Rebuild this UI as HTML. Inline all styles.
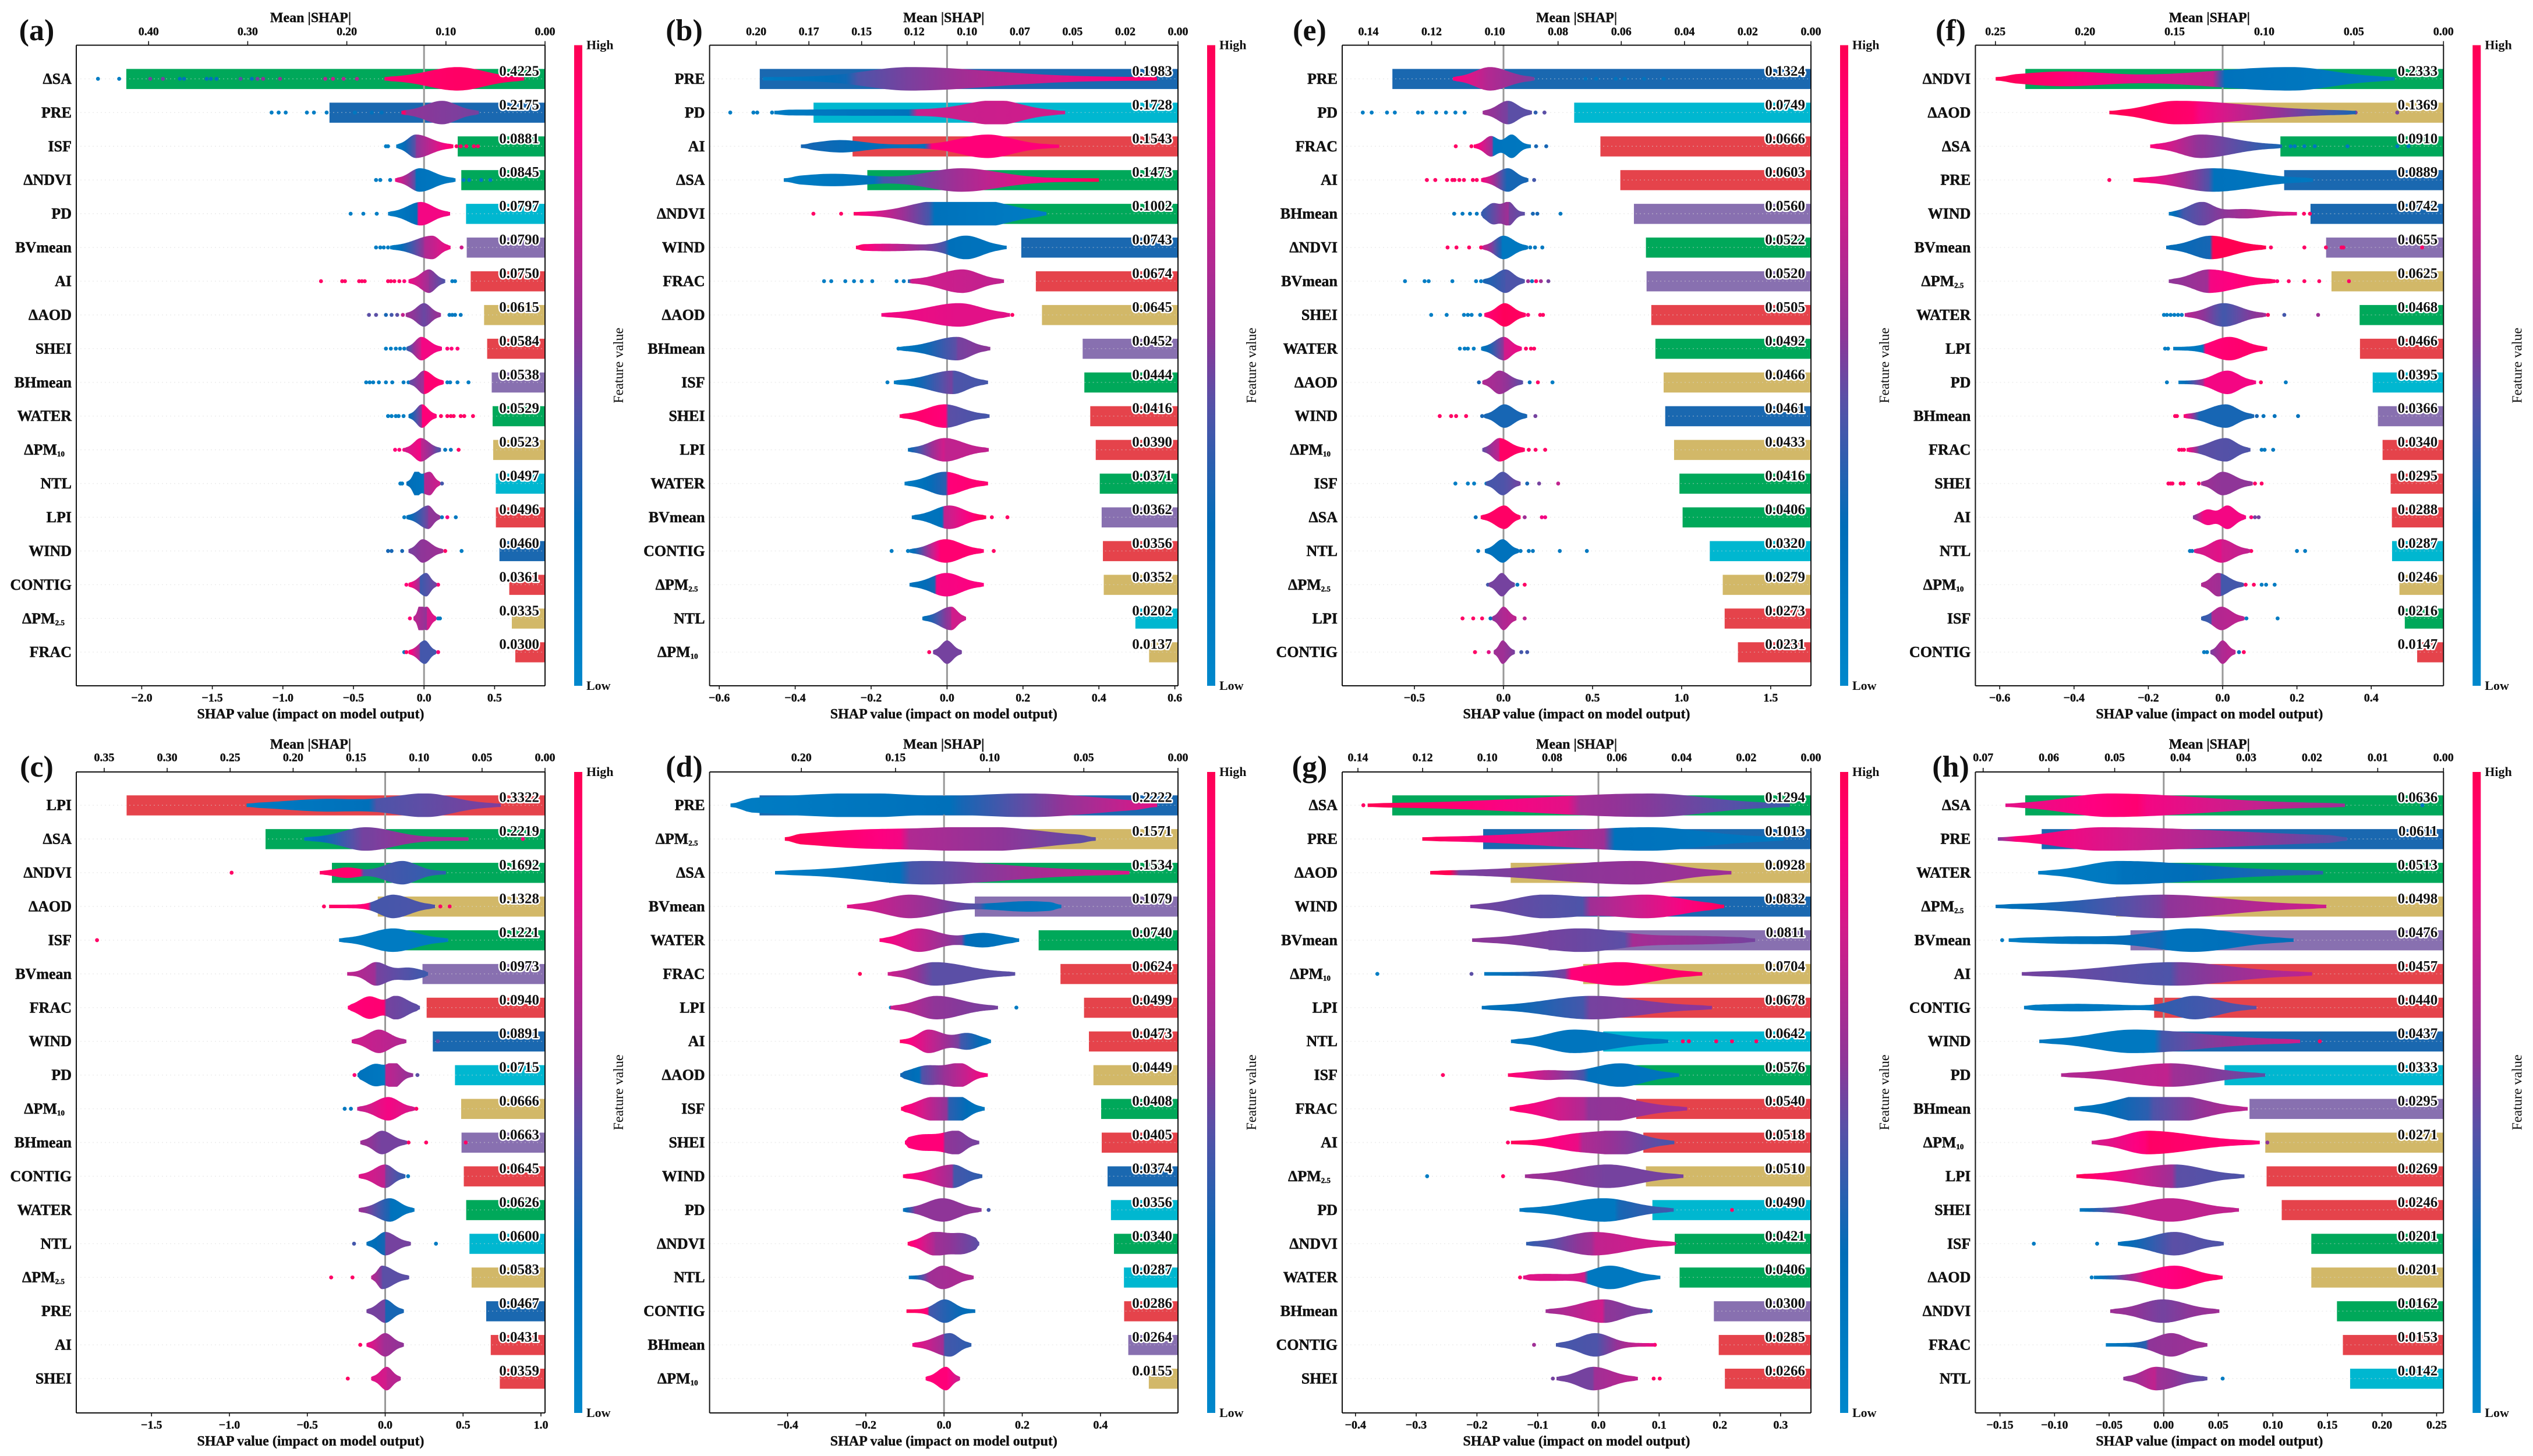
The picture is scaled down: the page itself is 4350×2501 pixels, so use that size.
<!DOCTYPE html>
<html lang="en">
<head>
<meta charset="utf-8">
<title>SHAP summary panels</title>
<style>
html,body{margin:0;padding:0;background:#fff;}
svg{display:block;}
text{font-family:"Liberation Serif",serif;fill:#111;}
</style>
</head>
<body>
<svg id="figure" xmlns="http://www.w3.org/2000/svg" width="4350" height="2501" viewBox="0 0 4350 2501">
<rect x="0" y="0" width="4350" height="2501" fill="#fff"/>
<defs id="defs"></defs>
</svg>
<script>
// ---------- panel (a) ----------
const aFeatures=["ΔSA","PRE","ISF","ΔNDVI","PD","BVmean","AI","ΔAOD","SHEI","BHmean","WATER","ΔPM10","NTL","LPI","WIND","CONTIG","ΔPM2.5","FRAC"];
const aMeans=[.4225,.2175,.0881,.0845,.0797,.0790,.0750,.0615,.0584,.0538,.0529,.0523,.0497,.0496,.0460,.0361,.0335,.0300];
const aShapTicks=[-2,-1.5,-1,-.5,0,.5];
const aMeanTicks=[.4,.3,.2,.1,0];
const aMeanLabels=["0.40","0.30","0.20","0.10","0.00"];
const aViolins=[[-.28,.237,.709],[-.16,.127,.388],[-.197,-.058,.208],[-.205,-.03,.223],[-.255,-.023,.185],[-.24,.058,.188],[-.11,.035,.15],[-.13,0,.12],[-.125,-.02,.127],[-.105,0,.14],[-.11,-.015,.09],[-.14,-.023,.12],[-.125,.04,.115,null,null,-.058,.85,.03],[-.125,.03,.115],[-.11,-.01,.136],[-.11,.015,.09],[-.075,.02,.087,null,null,-.03,.9,.02],[-.11,.006,.087]];
const aColors=[[.92,.95,.95,.95],[.95,.95,.55,.5,-.13],[.1,.45,.55,.95],[.85,.45,.2,.12,-.06],[.1,.25,.85,.85,-.045],[.1,.55,.65,.85,0],[.85,.6,.55,.42],[.6,.48,.48,.6],[.35,.75,.85,.85],[.45,.6,.92,.92],[.2,.55,.9,.9],[.75,.85,.7,.4],[.25,.18,.65,.75,0],[.2,.5,.55,.55],[.5,.55,.55,.6],[.95,.6,.38,.5,-.03],[.7,.55,.75,.8],[.95,.6,.4,.4,-.03]];
const aDots=[[-2.31,.1,-2.16,.1,-1.94,.5,-1.85,.5,-1.73,.2,-1.7,.2,-1.54,.2,-1.51,.2,-1.47,.2,-1.3,.45,-1.22,.2,-1.18,.5,-1.14,.55,-1.02,.55,-.7,.65,-.645,.7,-.57,.65,-.475,.65],[-1.08,.1,-1.03,.1,-.98,.1,-.83,.1,-.78,.1,-.69,.1,-.49,.15,-.37,.2,-.3,.2],[-.27,.1,-.255,.1,.23,.95,.26,.95,.3,.95,.353,.95,.382,.95],[-.34,.1,-.31,.1,-.24,.1,.28,.12,.32,.12,.405,.12,.47,.12],[-.52,.1,-.43,.1,-.335,.1],[-.34,.1,-.31,.1,-.285,.1,-.255,.1,-.225,.1,.266,.75],[-.73,.95,-.58,.95,-.56,.95,-.46,.95,-.44,.95,-.42,.95,-.255,.95,-.235,.95,-.21,.95,-.175,.95,-.14,.9,.2,.1,.22,.1],[-.39,.45,-.34,.45,-.27,.3,-.23,.4,-.19,.45,-.15,.7,.18,.15,.2,.15,.22,.15,.26,.15],[-.27,.1,-.235,.1,-.2,.1,-.17,.1,-.14,.1,.165,.9,.195,.9,.237,.9],[-.41,.1,-.385,.1,-.36,.1,-.32,.1,-.27,.1,-.225,.1,-.145,.1,-.11,.1,.165,.1,.185,.1,.237,.1,.315,.1],[-.255,.1,-.23,.1,-.2,.1,-.18,.1,-.145,.1,.12,.95,.165,.95,.19,.95,.21,.95,.26,.95,.285,.95,.347,.95],[-.205,.9,-.175,.9,-.14,.85,.15,.15,.19,.15,.245,.95],[-.168,.12,-.155,.12,.127,.4],[-.14,.1,.127,.15,.165,.85,.225,.15],[-.255,.3,-.23,.3,-.155,.3,.15,.95,.266,.1],[-.125,.9,.1,.9],[-.1,.9,.1,.15,.113,.15],[-.14,.15,-.125,.95,.1,.9]];

// ---------- panel (b) ----------
const bFeatures=["PRE","PD","AI","ΔSA","ΔNDVI","WIND","FRAC","ΔAOD","BHmean","ISF","SHEI","LPI","WATER","BVmean","CONTIG","ΔPM2.5","NTL","ΔPM10"];
const bMeans=[.1983,.1728,.1543,.1473,.1002,.0743,.0674,.0645,.0452,.0444,.0416,.0390,.0371,.0362,.0356,.0352,.0202,.0137];
const bShapTicks=[-.6,-.4,-.2,0,.2,.4,.6];
const bMeanTicks=[.2,.175,.15,.125,.1,.075,.05,.025,0];
const bMeanLabels=["0.20","0.17","0.15","0.12","0.10","0.07","0.05","0.02","0.00"];
const bViolins=[[-.485,-.098,.553,.16,.3],[-.455,.131,.311,.11,.09,-.2,.15,.4],[-.385,.107,.295,.1,.09,-.28,.45,.08],[-.43,.037,.4,.12,.14,-.3,.45,.12],[-.246,-.033,.262,.1,.16,.1,.7,.1],[-.24,.05,.157,.06,.06,-.16,.2,.12],[-.103,.04,.15],[-.173,.031,.166,.11,.08],[-.125,.026,.114],[-.14,.015,.108],[-.125,-.006,.112],[-.103,-.006,.11],[-.112,-.006,.108],[-.093,.006,.103],[-.099,-.004,.097],[-.099,-.002,.097],[-.065,.011,.05],[-.037,0,.039]];
const bColors=[[.12,.28,.42,.95,-.25],[.12,.2,.72,.75,-.09],[.3,.2,.9,.9,-.05],[.1,.2,.4,1,-.18],[.95,.4,.2,.1,-.04],[.95,.4,.22,.18,0],[.2,.75,.75,.7,-.09],[.85,.8,.8,.8],[.12,.45,.5,.55],[.1,.5,.42,.4],[.95,.9,.45,.4,0],[.25,.75,.7,.7],[.1,.35,.9,.92,0],[.18,.2,.7,1,-.01],[.15,.85,.92,.92,-.02],[.18,.3,.85,.88,-.03],[.2,.6,.75,.75],[.5,.5,.5,.5]];
const bDots=[[],[-.571,.1,-.51,.1,-.5,.1,-.461,.1],[],[],[-.352,.95,-.279,.95],[],[-.324,.1,-.305,.1,-.268,.1,-.245,.1,-.225,.1,-.197,.1,-.133,.1,-.114,.1],[.172,.95],[-.128,.1],[-.157,.1],[],[],[],[.118,.95,.159,.95],[-.146,.1,-.103,.1,.123,.95],[],[],[-.047,.95]];

// ---------- panel (c) ----------
const cFeatures=["LPI","ΔSA","ΔNDVI","ΔAOD","ISF","BVmean","FRAC","WIND","PD","ΔPM10","BHmean","CONTIG","WATER","NTL","ΔPM2.5","PRE","AI","SHEI"];
const cMeans=[.3322,.2219,.1692,.1328,.1221,.0973,.0940,.0891,.0715,.0666,.0663,.0645,.0626,.0600,.0583,.0467,.0431,.0359];
const cShapTicks=[-1.5,-1,-.5,0,.5,1];
const cMeanTicks=[.35,.3,.25,.2,.15,.1,.05,0];
const cMeanLabels=["0.35","0.30","0.25","0.20","0.15","0.10","0.05","0.00"];
const cViolins=[[-.89,.26,.742,.29,.25,-.375,.45,.35],[-.52,-.126,.535,.2,.25],[-.42,.11,.39,.15,.13,-.245,.35,.1],[-.36,.05,.32,.12,.15],[-.296,.05,.404],[-.244,-.06,.275,.08,.1,.15,.45,.1],[-.24,.07,.223,.07,.1,-.1,.95,.09],[-.215,-.04,.136],[-.178,.058,.18,.05,.06,-.06,.95,.09],[-.18,.02,.19],[-.16,-.02,.14],[-.17,0,.13],[-.17,.03,.188],[-.12,0,.165],[-.09,-.02,.154],[-.12,0,.12],[-.12,0,.12],[-.09,.01,.1]];
const cColors=[[.12,.22,.42,.52,-.08],[.15,.5,.5,.65],[.95,.92,.42,.35,-.15],[.95,.9,.4,.42,-.1],[.12,.12,.12,.12],[.7,.6,.5,.38],[.9,.92,.5,.45,0],[.75,.7,.7,.65],[.2,.15,.7,.55,0],[.7,.85,.85,.75],[.6,.5,.5,.5],[.8,.7,.5,.35],[.6,.3,.2,.15],[.2,.3,.5,.5],[.7,.5,.45,.45],[.5,.5,.3,.3],[.85,.6,.6,.55],[.8,.75,.7,.65]];
const cDots=[[],[.884,.9],[-.986,.95],[-.393,.95,.354,.95,.414,.95],[-1.85,.95],[],[],[.338,.5],[-.197,.9,.207,.45],[-.26,.15,-.22,.15,.2,.95],[.15,.95,.263,.95,.517,.95],[.147,.1],[],[-.2,.4,.326,.12],[-.347,.95,-.21,.95],[],[-.16,.95],[-.24,.95]];

// ---------- panel (d) ----------
const dFeatures=["PRE","ΔPM2.5","ΔSA","BVmean","WATER","FRAC","LPI","AI","ΔAOD","ISF","SHEI","WIND","PD","ΔNDVI","NTL","CONTIG","BHmean","ΔPM10"];
const dMeans=[.2222,.1571,.1534,.1079,.0740,.0624,.0499,.0473,.0449,.0408,.0405,.0374,.0356,.0340,.0287,.0286,.0264,.0155];
const dShapTicks=[-.4,-.2,0,.2,.4];
const dMeanTicks=[.2,.15,.1,.05,0];
const dMeanLabels=["0.20","0.15","0.10","0.05","0.00"];
const dViolins=[[-.546,-.222,.545,.35,.2,.216,1,.25],[-.407,.112,.388,.2,.2,-.2,.7,.2],[-.432,-.045,.474],[-.248,-.087,.3,null,.1,.216,.35,.1],[-.165,-.064,.192,null,.07,.1,.55,.06],[-.144,-.024,.182],[-.137,-.019,.138],[-.113,-.04,.12,.035,.05,.06,.65,.04],[-.112,.042,.112,.05,.035,-.045,.75,.05],[-.11,.039,.104,.05,.035,-.034,.9,.05],[-.1,.033,.09,.05,.03,-.055,.6,.05],[-.105,.023,.098],[-.105,-.003,.096],[-.093,-.024,.09,.04,.05,.05,.75,.04],[-.09,-.003,.076,.035],[-.096,.002,.08,.035,.035],[-.081,.015,.07],[-.047,.005,.041]];
const dColors=[[.1,.22,.3,.8,.03],[1,.85,.65,.45,-.1],[.1,.2,.4,.78,-.1],[.8,.42,.22,.15,.1],[.9,.5,.25,.15,.05],[.75,.45,.45,.45],[.75,.55,.55,.5],[.95,.5,.4,.18,.04],[.3,.22,.42,.88,-.06],[.95,.55,.35,.15,.01],[.9,.9,.55,.5,0],[.95,.6,.4,.35],[.15,.55,.55,.55,-.07],[.95,.65,.6,.45],[.12,.55,.6,.65,-.04],[.98,.9,.4,.2,-.04],[.85,.6,.4,.35,0],[.9,.9,.9,.7]];
const dDots=[[],[],[],[],[],[-.215,.98],[-.136,.12,.185,.12],[],[],[],[],[],[.114,.4],[],[],[],[],[]];

// ---------- panel (e) ----------
const eFeatures=["PRE","PD","FRAC","AI","BHmean","ΔNDVI","BVmean","SHEI","WATER","ΔAOD","WIND","ΔPM10","ISF","ΔSA","NTL","ΔPM2.5","LPI","CONTIG"];
const eMeans=[.1324,.0749,.0666,.0603,.0560,.0522,.0520,.0505,.0492,.0466,.0461,.0433,.0416,.0406,.0320,.0279,.0273,.0231];
const eShapTicks=[-.5,0,.5,1,1.5];
const eMeanTicks=[.14,.12,.1,.08,.06,.04,.02,0];
const eMeanLabels=["0.14","0.12","0.10","0.08","0.06","0.04","0.02","0.00"];
const eViolins=[[-.284,-.076,.174],[-.117,.025,.16],[-.167,.046,.154,.05,.05,-.07,.85,.05],[-.126,.025,.14],[-.126,.03,.12,.05,.04,-.06,.85,.05],[-.12,0,.138],[-.115,.011,.12],[-.108,.007,.126],[-.126,.002,.103],[-.119,-.023,.11],[-.11,.005,.133],[-.119,-.023,.12],[-.1,-.005,.096],[-.128,.005,.096],[-.105,-.005,.087],[-.083,-.009,.064],[-.064,0,.073],[-.055,-.005,.064]];
const eColors=[[.9,.65,.65,.5],[.6,.5,.45,.45],[.95,.6,.18,.15,-.06],[.9,.3,.3,.3],[.35,.6,.5,.45],[.75,.3,.15,.15,-.01],[.3,.4,.42,.42],[.9,.98,.98,.95],[.15,.55,.75,.85],[.65,.6,.6,.45],[.3,.3,.3,.3],[.45,.7,.95,.95],[.4,.42,.42,.5],[.95,.95,.95,.95],[.2,.2,.2,.2],[.5,.5,.5,.5],[.55,.65,.65,.7],[.6,.6,.6,.5]];
const eDots=[[.46,.18,.52,.18,.63,.18,.68,.18,.79,.18,.9,.18],[-.79,.1,-.74,.1,-.654,.1,-.61,.1,-.48,.1,-.455,.1,-.378,.1,-.323,.1,-.27,.1,-.218,.1,.18,.35,.23,.45],[-.268,.95,-.18,.95,.183,.3,.24,.3],[-.43,.95,-.383,.95,-.317,.95,-.287,.95,-.275,.95,-.248,.95,-.222,.95,-.172,.95,-.15,.95,.172,.4],[-.277,.15,-.23,.15,-.188,.15,-.15,.15,.165,.3,.19,.3,.32,.15],[-.314,.95,-.264,.95,-.193,.95,-.126,.95,.15,.15,.177,.15,.218,.15],[-.553,.1,-.443,.1,-.42,.1,-.287,.1,-.154,.1,-.126,.1,.138,.6,.16,.15,.183,.95,.21,.6,.252,.5],[-.406,.1,-.319,.1,-.222,.1,-.2,.1,-.179,.1,-.131,.1,.138,.9,.206,.95,.222,.95],[-.245,.1,-.218,.1,-.2,.1,-.167,.1,.126,.95,.154,.95,.172,.95],[-.138,.3,.147,.2,.193,.95,.275,.1],[-.358,.95,-.294,.95,-.266,.95,-.21,.95,-.12,.3,.179,.5],[.142,.95,.18,.95,.234,.95],[-.27,.1,-.2,.1,-.165,.1,-.096,.1,.133,.3,.2,.5,.307,.7],[-.156,.2,.119,.6,.215,.85,.234,.85],[-.142,.15,.096,.15,.142,.15,.165,.15,.316,.15,.468,.15],[-.087,.4,.078,.15,.119,.95],[-.23,.95,-.17,.95,-.12,.95,-.073,.2,.119,.7],[-.16,.95,-.083,.8,.1,.4,.133,.4]];

// ---------- panel (f) ----------
const fFeatures=["ΔNDVI","ΔAOD","ΔSA","PRE","WIND","BVmean","ΔPM2.5","WATER","LPI","PD","BHmean","FRAC","SHEI","AI","NTL","ΔPM10","ISF","CONTIG"];
const fMeans=[.2333,.1369,.0910,.0889,.0742,.0655,.0625,.0468,.0466,.0395,.0366,.0340,.0295,.0288,.0287,.0246,.0216,.0147];
const fShapTicks=[-.6,-.4,-.2,0,.2,.4];
const fMeanTicks=[.25,.2,.15,.1,.05,0];
const fMeanLabels=["0.25","0.20","0.15","0.10","0.05","0.00"];
const fViolins=[[-.611,.183,.463,.3,null,-.428,.55,.16],[-.305,-.125,.358],[-.195,-.059,.16],[-.24,-.026,.243],[-.145,-.056,.2,null,.04,.056,.3,.07],[-.152,-.032,.117],[-.145,-.037,.142],[-.102,.003,.117],[-.133,.018,.12,.06],[-.119,.013,.09,.05],[-.105,.008,.085],[-.097,.008,.075],[-.058,0,.081],[-.08,.013,.063,.025,.028,-.04,.6,.025],[-.077,-.003,.074],[-.058,-.012,.057],[-.058,-.003,.059],[-.033,0,.035]];
const fColors=[[1,.7,.2,.12,-.01],[1,.93,.85,.3,-.07],[.9,.55,.55,.3],[1,.42,.2,.15,-.03],[.15,.4,.42,.8,-.1],[.25,.3,1,1,-.03],[.55,.6,.85,.95],[.7,.4,.4,.6],[.12,.15,.9,.95,-.05],[.12,.6,.85,.85,-.05],[.95,.3,.3,.3,-.06],[.95,.45,.45,.42,-.06],[.6,.55,.55,.55],[.5,.85,.85,.85,-.05],[.75,.8,.75,.7],[.65,.6,.4,.4,-.005],[.35,.4,.65,.7,-.03],[.5,.65,.65,.7]];
const fDots=[[],[.358,.5,.47,.5],[.183,.15,.194,.15,.22,.15,.248,.15,.336,.15,.47,.15,.5,.15],[-.305,.95],[.219,.95,.235,.95],[.13,.95,.22,.95,.278,.95,.32,.95,.325,.95,.537,.95],[.147,.9,.178,.95,.22,.95,.26,.95,.34,.95],[-.158,.1,-.15,.1,-.14,.1,-.13,.1,-.12,.1,-.11,.1,.122,.95,.166,.4,.257,.6],[-.155,.1,-.147,.1],[-.15,.12,.103,.95,.17,.12],[-.128,.95,-.123,.95,.092,.3,.11,.2,.14,.2,.203,.2],[-.117,.95,-.11,.95,-.104,.95,.105,.15,.113,.15,.136,.15],[-.146,.95,-.14,.95,-.135,.95,-.113,.95,-.105,.95,-.064,.95,.087,.95,.105,.95],[.077,.9,.087,.5,.097,.5],[-.088,.15,-.082,.15,.077,.95,.2,.12,.222,.12],[.062,.95,.084,.95,.105,.12,.117,.12,.14,.12],[.064,.12,.148,.12],[-.05,.12,-.042,.12,.044,.2,.057,.95]];

// ---------- panel (g) ----------
const gFeatures=["ΔSA","PRE","ΔAOD","WIND","BVmean","ΔPM10","LPI","NTL","ISF","FRAC","AI","ΔPM2.5","PD","ΔNDVI","WATER","BHmean","CONTIG","SHEI"];
const gMeans=[.1294,.1013,.0928,.0832,.0811,.0704,.0678,.0642,.0576,.0540,.0518,.0510,.0490,.0421,.0406,.0300,.0285,.0266];
const gShapTicks=[-.4,-.3,-.2,-.1,0,.1,.2,.3];
const gMeanTicks=[.14,.12,.1,.08,.06,.04,.02,0];
const gMeanLabels=["0.14","0.12","0.10","0.08","0.06","0.04","0.02","0.00"];
const gViolins=[[-.38,.086,.315],[-.29,.083,.305],[-.277,.063,.219],[-.211,-.09,.207,null,.1,.083,.95,.08],[-.208,-.03,.258,null,.09,.15,.25,.1],[-.188,.036,.171,.085],[-.192,-.011,.187],[-.144,-.04,.115],[-.149,.036,.133,.06,null,-.085,.3,.04],[-.146,.015,.146,null,null,-.05,.6,.06],[-.144,.039,.125,.06,null,-.04,.55,.05],[-.121,.015,.14],[-.13,.009,.124],[-.119,-.008,.128],[-.124,.019,.102,.04,.045,-.085,.18,.05],[-.087,.009,.086],[-.07,-.005,.093,null,.035],[-.069,-.008,.065]];
const gColors=[[1,.8,.6,.38,-.04],[1,.6,.2,.15,.018],[1,1,.5,.6,-.237],[.5,.42,.6,.98,-.02],[.55,.45,.62,.5,.05],[.15,.5,.9,.95,-.05],[.2,.4,.5,.55,-.02],[.18,.18,.18,.15],[.95,.4,.2,.18,-.02],[.95,.65,.55,.6,-.02],[1,.82,.65,.4,-.03],[.6,.5,.5,.5],[.15,.15,.3,.4,.03],[.35,.6,.7,.78],[.8,.75,.15,.15,-.02],[.6,.75,.55,.5],[.4,.42,.42,.85],[.5,.5,.6,.7]];
const gDots=[[-.387,.95],[],[],[],[],[-.364,.1,-.209,.45],[],[.139,.95,.149,.95,.194,.95,.22,.95,.26,.95],[-.256,.95],[],[-.149,.95],[-.282,.1,-.157,.95],[.22,.95],[],[-.129,.95],[.086,.12],[-.106,.6,.093,.95],[-.075,.5,.091,.95,.101,.95]];

// ---------- panel (h) ----------
const hFeatures=["ΔSA","PRE","WATER","ΔPM2.5","BVmean","AI","CONTIG","WIND","PD","BHmean","ΔPM10","LPI","SHEI","ISF","ΔAOD","ΔNDVI","FRAC","NTL"];
const hMeans=[.0636,.0611,.0513,.0498,.0476,.0457,.0440,.0437,.0333,.0295,.0271,.0269,.0246,.0201,.0201,.0162,.0153,.0142];
const hShapTicks=[-.15,-.1,-.05,0,.05,.1,.15,.2,.25];
const hMeanTicks=[.07,.06,.05,.04,.03,.02,.01,0];
const hMeanLabels=["0.07","0.06","0.05","0.04","0.03","0.02","0.01","0.00"];
const hViolins=[[-.145,-.05,.166],[-.152,-.058,.168,null,.17],[-.115,-.041,.146],[-.154,0,.149],[-.142,.027,.119,.05,null,-.08,.2,.05],[-.13,.01,.136],[-.128,.028,.085,.025,.03,-.08,.2,.05],[-.114,-.028,.125],[-.094,.006,.093],[-.082,.017,.077,null,null,-.024,.6,.03],[-.066,-.015,.088],[-.08,.01,.074],[-.077,.006,.069,.035],[-.042,.01,.055],[-.064,.01,.054,.03],[-.049,-.001,.051],[-.053,.007,.04,.02],[-.037,-.007,.04]];
const hColors=[[.8,.92,.85,.6,-.02],[.5,.9,.9,.42,-.13],[.1,.15,.2,.35],[.2,.5,.55,.75],[.1,.3,.2,.25,0],[.5,.42,.5,.7],[.12,.15,.35,.45,-.01],[.15,.15,.4,.75,-.005],[.65,.7,.6,.45],[.15,.35,.42,.7,-.012],[.75,.9,.95,.9],[1,.6,.45,.42],[.15,.65,.7,.7,-.035],[.2,.45,.45,.42],[.12,.75,.85,.95,-.02],[.6,.5,.5,.6],[.12,.35,.55,.6,-.015],[.55,.7,.6,.45]];
const hDots=[[.237,.15],[],[],[],[-.148,.1],[],[],[.143,.95],[],[],[.095,.55],[],[],[-.119,.12,-.061,.12],[-.066,.1],[],[],[.054,.12]];

// ---------- shared lookups ----------
const featureColors={"ΔSA":"#00a85a","ΔNDVI":"#00a85a","WATER":"#00a85a","ISF":"#00a85a","PRE":"#1a68b0","WIND":"#1a68b0","PD":"#00b7d0","NTL":"#00b7d0","BVmean":"#8870b0","BHmean":"#8870b0","AI":"#e5434b","FRAC":"#e5434b","SHEI":"#e5434b","LPI":"#e5434b","CONTIG":"#e5434b","ΔAOD":"#d2b868","ΔPM10":"#d2b868","ΔPM2.5":"#d2b868"};
const colormapPositions=[0,.25,.45,.55,.75,.88,1];
const colormapColors=[[0,136,204],[0,109,184],[91,79,166],[143,53,152],[208,28,139],[255,0,128],[255,0,82]];

// ---------- layout (geometry only) ----------
const topRow={top:77.6,bottom:1178,rowStart:135.4,titleY:30,tickLabelY:53.5,letterY:53};
const bottomRow={top:1326,bottom:2427,rowStart:1383.2,titleY:1278,tickLabelY:1300.6,letterY:1318};
const rowStep=57.93;
const panels=[
 {id:"a",row:topRow,left:131,right:936,zero:728.2,unit:242.4,meanUnit:1702,letterX:63,F:aFeatures,M:aMeans,ST:aShapTicks,MT:aMeanTicks,ML:aMeanLabels,V:aViolins,C:aColors,D:aDots},
 {id:"b",row:topRow,left:1218.6,right:2023,zero:1626.4,unit:652,meanUnit:3622,letterX:1175,F:bFeatures,M:bMeans,ST:bShapTicks,MT:bMeanTicks,ML:bMeanLabels,V:bViolins,C:bColors,D:bDots},
 {id:"e",row:topRow,left:2305,right:3110,zero:2582,unit:305.9,meanUnit:5429,letterX:2249,F:eFeatures,M:eMeans,ST:eShapTicks,MT:eMeanTicks,ML:eMeanLabels,V:eViolins,C:eColors,D:eDots},
 {id:"f",row:topRow,left:3392.4,right:4196.3,zero:3817,unit:638,meanUnit:3078,letterX:3350,F:fFeatures,M:fMeans,ST:fShapTicks,MT:fMeanTicks,ML:fMeanLabels,V:fViolins,C:fColors,D:fDots},
 {id:"c",row:bottomRow,left:131,right:936,zero:661.5,unit:267.5,meanUnit:2163,letterX:63,F:cFeatures,M:cMeans,ST:cShapTicks,MT:cMeanTicks,ML:cMeanLabels,V:cViolins,C:cColors,D:cDots},
 {id:"d",row:bottomRow,left:1218.6,right:2023,zero:1621.2,unit:671.7,meanUnit:3234,letterX:1175,F:dFeatures,M:dMeans,ST:dShapTicks,MT:dMeanTicks,ML:dMeanLabels,V:dViolins,C:dColors,D:dDots},
 {id:"g",row:bottomRow,left:2305,right:3110,zero:2745,unit:1043,meanUnit:5557,letterX:2249,F:gFeatures,M:gMeans,ST:gShapTicks,MT:gMeanTicks,ML:gMeanLabels,V:gViolins,C:gColors,D:gDots},
 {id:"h",row:bottomRow,left:3392.4,right:4196.3,zero:3715.8,unit:1874.6,meanUnit:11294,letterX:3350,F:hFeatures,M:hMeans,ST:hShapTicks,MT:hMeanTicks,ML:hMeanLabels,V:hViolins,C:hColors,D:hDots}
];

const NS="http://www.w3.org/2000/svg";
const svg=document.getElementById("figure");
const defs=document.getElementById("defs");



function mk(tag,parent,attrs,txt){
  const el=document.createElementNS(NS,tag);
  for(const k in attrs){el.setAttribute(k,attrs[k]);}
  if(txt!==undefined){el.textContent=txt;}
  parent.appendChild(el);
  return el;
}
function cmap(t){
  t=Math.max(0,Math.min(1,t));
  let i=0;
  while(i<colormapPositions.length-2&&t>colormapPositions[i+1]){i++;}
  const f=(t-colormapPositions[i])/(colormapPositions[i+1]-colormapPositions[i]);
  const a=colormapColors[i],b=colormapColors[i+1];
  return "rgb("+Math.round(a[0]+(b[0]-a[0])*f)+","+Math.round(a[1]+(b[1]-a[1])*f)+","+Math.round(a[2]+(b[2]-a[2])*f)+")";
}
function halfHeight(x,v){
  const lo=v[0],mode=v[1],hi=v[2];
  const sL=v[3]==null?(mode-lo)*.55:v[3];
  const sR=v[4]==null?(hi-mode)*.55:v[4];
  const s=x<mode?sL:sR;
  let a=Math.exp(-Math.pow((x-mode)/s,2));
  if(v[5]!=null){a+=v[6]*Math.exp(-Math.pow((x-v[5])/v[7],2));}
  a=Math.min(1,a);
  const edge=Math.min(1,Math.min(x-lo,hi-x)/((hi-lo)*.05));
  const taper=edge*edge*(3-2*edge);
  return 3+17.2*a*taper;
}

// Colorbar gradient shared by every panel
const cbGrad=mk("linearGradient",defs,{id:"cbgrad",x1:0,y1:1,x2:0,y2:0});
for(let i=0;i<=20;i++){
  mk("stop",cbGrad,{offset:i/20,"stop-color":cmap(i/20)});
}

panels.forEach(function(p){
  const r=p.row;
  const g=mk("g",svg,{});
  
  
  const sx=function(v){return p.zero+p.unit*v;};
  const mx=function(v){return p.right-p.meanUnit*v;};
  const ry=function(i){return r.rowStart+rowStep*i;};
  const cx=(p.left+p.right)/2;

  const letter=mk("text",g,{x:p.letterX,y:r.letterY+16,"text-anchor":"middle","font-size":52,"font-weight":"bold",fill:"#170c08"},"("+p.id+")");
  
  

  // bars
  p.M.forEach(function(m,i){
    const bar=mk("rect",g,{x:mx(m),y:ry(i)-17,width:p.meanUnit*m,height:34.5,fill:featureColors[p.F[i]]});
    
    
  });
  // row guide lines
  p.F.forEach(function(f,i){
    const gl=mk("line",g,{x1:p.left,x2:p.right,y1:ry(i),y2:ry(i),stroke:"rgba(215,215,215,.5)","stroke-width":1.4,"stroke-dasharray":"2 5"});
    
    
  });
  // zero line
  const zl=mk("line",g,{x1:sx(0),x2:sx(0),y1:r.top,y2:r.bottom,stroke:"#999",  "stroke-width":3});
  
  

  // outlier dots
  p.D.forEach(function(list,i){
    for(let k=0;k<list.length;k+=2){
      const dot=mk("circle",g,{cx:sx(list[k]),cy:ry(i),r:3.4,fill:cmap(list[k+1])});
      
      
    }
  });
  // violins
  p.V.forEach(function(v,i){
    const c=p.C[i];
    const lo=v[0],hi=v[2];
    const J=c[4]==null?v[1]:c[4];
    const gid="v"+p.id+i;
    const lg=mk("linearGradient",defs,{id:gid,gradientUnits:"userSpaceOnUse",x1:sx(lo),x2:sx(hi),y1:0,y2:0});
    const fJ=(J-lo)/(hi-lo);
    const soft=.015;
    const fA=Math.max(0,fJ-soft),fB=Math.min(1,fJ+soft);
    for(let k=0;k<=6;k++){
      const t=k/6;
      mk("stop",lg,{offset:t*fA,"stop-color":cmap(c[0]+(c[1]-c[0])*t)});
    }
    for(let k=0;k<=6;k++){
      const t=k/6;
      mk("stop",lg,{offset:fB+t*(1-fB),"stop-color":cmap(c[2]+(c[3]-c[2])*t)});
    }
    const n=80;
    let up="",dn="";
    for(let k=0;k<=n;k++){
      const x=lo+(hi-lo)*k/n;
      const h=halfHeight(x,v);
      up+=(k?"L":"M")+sx(x).toFixed(1)+" "+(ry(i)-h).toFixed(1);
      dn="L"+sx(x).toFixed(1)+" "+(ry(i)+h).toFixed(1)+dn;
    }
    const path=mk("path",g,{d:up+dn+"Z",fill:"url(#"+gid+")"});
    
    
  });

  // spines
  [[p.left,r.top,p.right,r.top,"spine-top"],[p.left,r.bottom,p.right,r.bottom,"spine-bottom"],[p.left,r.top,p.left,r.bottom,"spine-left"],[p.right,r.top,p.right,r.bottom,"spine-right"]].forEach(function(s){
    const sp=mk("line",g,{x1:s[0],y1:s[1],x2:s[2],y2:s[3],stroke:"#111","stroke-width":2});
    
    
  });

  // feature labels
  p.F.forEach(function(f,i){
    const isPM=f.indexOf("ΔPM")===0;
    const t=mk("text",g,{x:isPM?p.left-20:p.left-8,y:ry(i)+8.5,"text-anchor":"end","font-size":26,"font-weight":"bold",stroke:"#111","stroke-width":.5},isPM?"ΔPM":f);
    
    
    if(isPM){
      const sub=mk("tspan",t,{"font-size":13,dy:3},f.slice(3));
      
      
    }
  });

  // value labels
  p.M.forEach(function(m,i){
    const t=mk("text",g,{x:p.right-10,y:ry(i)-5.5,"text-anchor":"end","font-size":25,"font-weight":"bold",stroke:"#fff","stroke-width":5,"paint-order":"stroke","stroke-linejoin":"round",fill:"#000"},m.toFixed(4));
    
    
  });

  // top axis
  p.MT.forEach(function(v,i){
    const tk=mk("line",g,{x1:mx(v),x2:mx(v),y1:r.top-7,y2:r.top,stroke:"#111","stroke-width":1.6});
    
    
    const lb=mk("text",g,{x:mx(v),y:r.tickLabelY+7,"text-anchor":"middle","font-size":20,"font-weight":"bold",stroke:"#111","stroke-width":.4},p.ML[i]);
    
    
  });
  const tt=mk("text",g,{x:cx,y:r.titleY+8,"text-anchor":"middle","font-size":24,"font-weight":"bold",stroke:"#111","stroke-width":.4},"Mean |SHAP|");
  
  

  // bottom axis
  p.ST.forEach(function(v){
    const tk=mk("line",g,{x1:sx(v),x2:sx(v),y1:r.bottom,y2:r.bottom+6,stroke:"#111","stroke-width":1.6});
    
    
    const label=(v<0?"−":"")+Math.abs(v).toFixed(p.id==="h"?2:1);
    const lb=mk("text",g,{x:sx(v),y:r.bottom+27,"text-anchor":"middle","font-size":20,"font-weight":"bold",stroke:"#111","stroke-width":.4},label);
    
    
  });
  const xt=mk("text",g,{x:cx,y:r.bottom+56,"text-anchor":"middle","font-size":24,"font-weight":"bold",stroke:"#111","stroke-width":.4},"SHAP value (impact on model output)");
  
  

  // colorbar
  const cb=mk("rect",g,{x:p.right+50,y:r.top,width:14,height:r.bottom-r.top,fill:"url(#cbgrad)"});
  
  
  const hiT=mk("text",g,{x:p.right+71,y:r.top+7,"font-size":22,"font-weight":"bold"},"High");
  
  
  const loT=mk("text",g,{x:p.right+71,y:r.bottom+7,"font-size":22,"font-weight":"bold"},"Low");
  
  
  const my=(r.top+r.bottom)/2;
  const fv=mk("text",g,{x:p.right+127,y:my,"text-anchor":"middle","font-size":24,transform:"rotate(-90 "+(p.right+127)+" "+my+")","dominant-baseline":"central"},"Feature value");
  
  
});
</script>
</body>
</html>
